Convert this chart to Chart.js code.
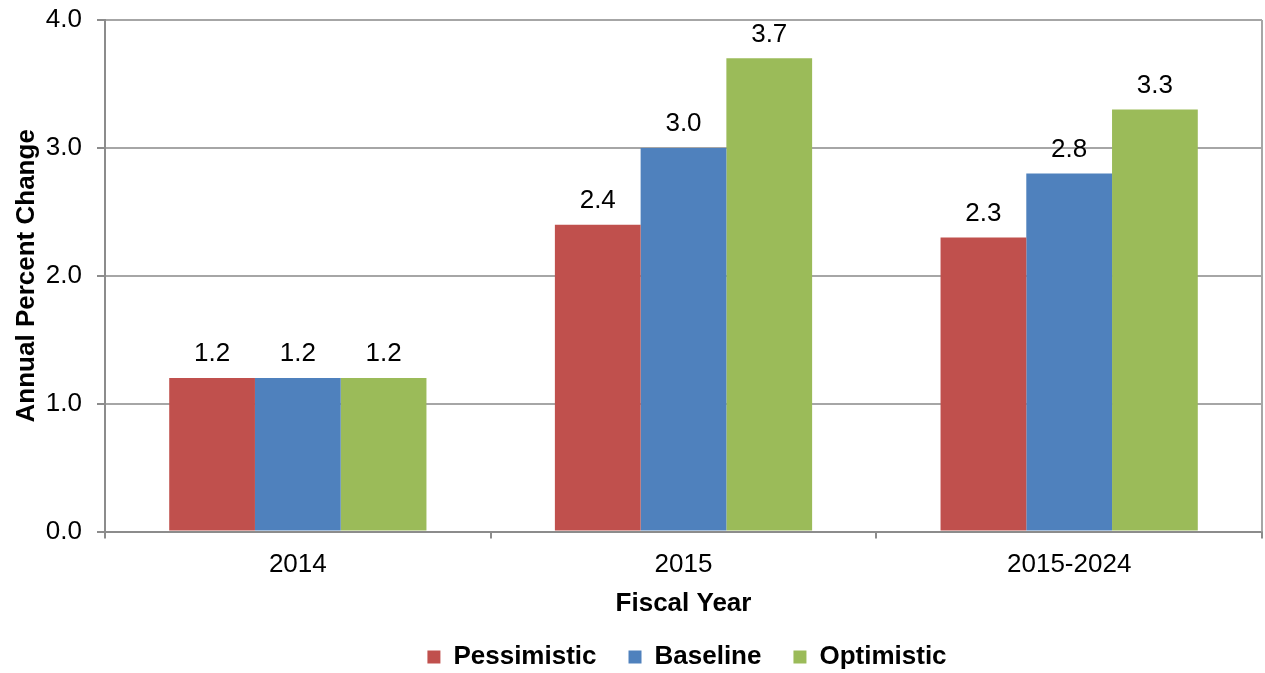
<!DOCTYPE html>
<html>
<head>
<meta charset="utf-8">
<title>Annual Percent Change by Fiscal Year</title>
<script src="https://cdn.jsdelivr.net/npm/chart.js@4.4.1/dist/chart.umd.min.js"></script>
<style>
  html, body { margin: 0; padding: 0; background: #fff; }
  #wrap { width: 1265px; height: 673px; position: relative; }
</style>
</head>
<body>
<div id="wrap"><canvas id="chart"></canvas></div>
<script>
const years = ["2014", "2015", "2015-2024"];
const pessimistic = [1.2, 2.4, 2.3];
const baseline = [1.2, 3.0, 2.8];
const optimistic = [1.2, 3.7, 3.3];
const yTicks = [0.0, 1.0, 2.0, 3.0, 4.0];

const FONT = '"Liberation Sans", Arial, Helvetica, sans-serif';
const AXIS_GRAY = "#8c8c8c";

// value above each bar
const valueLabels = {
  id: "valueLabels",
  afterDatasetsDraw(chart) {
    const ctx = chart.ctx;
    ctx.save();
    ctx.font = "26px " + FONT;
    ctx.fillStyle = "#000";
    ctx.textAlign = "center";
    ctx.textBaseline = "bottom";
    chart.data.datasets.forEach((ds, i) => {
      chart.getDatasetMeta(i).data.forEach((bar, j) => {
        ctx.fillText(ds.data[j].toFixed(1), bar.x, bar.y - 11);
      });
    });
    ctx.restore();
  },
};

// right edge of the plot box
const plotFrame = {
  id: "plotFrame",
  beforeDatasetsDraw(chart) {
    const { ctx, chartArea } = chart;
    ctx.save();
    ctx.strokeStyle = "#a6a6a6";
    ctx.lineWidth = 2;
    ctx.beginPath();
    ctx.moveTo(chartArea.right, chartArea.top);
    ctx.lineTo(chartArea.right, chartArea.bottom);
    ctx.stroke();
    ctx.restore();
  },
};

// legend sits a bit right of centre
const legendShift = {
  id: "legendShift",
  afterLayout(chart) {
    if (chart.legend) chart.legend.left += 112;
  },
};

new Chart(document.getElementById("chart"), {
  type: "bar",
  data: {
    labels: years,
    datasets: [
      { label: "Pessimistic", data: pessimistic, backgroundColor: "#c0504d" },
      { label: "Baseline", data: baseline, backgroundColor: "#4f81bd" },
      { label: "Optimistic", data: optimistic, backgroundColor: "#9bbb59" },
    ],
  },
  options: {
    responsive: true,
    maintainAspectRatio: false,
    animation: false,
    datasets: {
      bar: { categoryPercentage: 0.667, barPercentage: 1.0 },
    },
    layout: { padding: { top: 20, right: 3, left: 0, bottom: -7 } },
    scales: {
      x: {
        grid: {
          offset: true,
          drawOnChartArea: false,
          tickLength: 7,
          color: AXIS_GRAY,
          lineWidth: 2,
        },
        border: { color: AXIS_GRAY, width: 2 },
        ticks: { color: "#000", font: { family: FONT, size: 26 }, padding: 11 },
        title: {
          display: true,
          text: "Fiscal Year",
          color: "#000",
          font: { family: FONT, size: 26, weight: "bold" },
          padding: { top: -4, bottom: -7 },
        },
      },
      y: {
        min: 0,
        max: 4,
        afterBuildTicks(scale) {
          scale.ticks = yTicks.map((v) => ({ value: v }));
        },
        afterFit(scale) {
          scale.width = 105;
          scale.paddingTop = 0;
        },
        grid: { color: "#a6a6a6", lineWidth: 2, tickLength: 8, tickColor: AXIS_GRAY },
        border: { color: AXIS_GRAY, width: 2 },
        ticks: {
          color: "#000",
          font: { family: FONT, size: 26 },
          padding: 15,
          callback: (v) => Number(v).toFixed(1),
        },
        title: {
          display: true,
          text: "Annual Percent Change",
          color: "#000",
          font: { family: FONT, size: 26, weight: "bold" },
          padding: { top: 11, bottom: 0 },
        },
      },
    },
    plugins: {
      legend: {
        position: "bottom",
        labels: {
          color: "#000",
          font: { family: FONT, size: 26, weight: "bold" },
          boxWidth: 13,
          boxHeight: 13,
          padding: 32,
        },
      },
      tooltip: { enabled: false },
    },
  },
  plugins: [valueLabels, plotFrame, legendShift],
});
</script>
</body>
</html>
